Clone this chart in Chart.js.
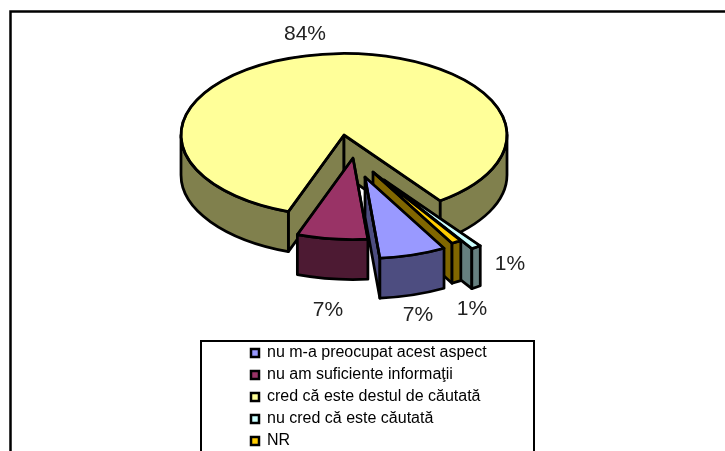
<!DOCTYPE html>
<html>
<head>
<meta charset="utf-8">
<style>
  html, body { margin: 0; padding: 0; background: #fff; overflow: hidden; }
</style>
<script src="https://cdn.jsdelivr.net/npm/chart.js@4"></script>
</head>
<body>
<canvas id="pie" width="725" height="451"></canvas>
<script>
// data
const categories = ["nu m-a preocupat acest aspect", "nu am suficiente informaţii", "cred că este destul de căutată", "nu cred că este căutată", "NR"];
const percents = [6.6, 7, 84.4, 1, 1]; // labels show them rounded
const topColors = ["#9999FF", "#993366", "#FFFF99", "#CCFFFF", "#FFCC00"];
const sideColors = ["#4D4D80", "#4D1A33", "#80804D", "#668080", "#806600"];

// look of the fake 3D pie
const squash = 0.5;
const depth = 40;
const edgeWidth = 2.75;
const explodeX = [21, 9, 0, 40, 29];
const explodeY = [42, 23, 0, 45, 37];
const drawOrder = [2, 3, 4, 1, 0]; // back to front
const labelX = [418, 328, 305, 510, 472];
const labelY = [315, 310, 34, 264, 309];

function pointOn(cx, cy, r, angle) {
    return { x: cx + r * Math.cos(angle), y: cy + r * squash * Math.sin(angle) };
}

function strokeFill(ctx, color) {
    ctx.fillStyle = color;
    ctx.fill();
    ctx.stroke();
}

function drawWall(ctx, cx, cy, p, color) {
    ctx.beginPath();
    ctx.moveTo(cx, cy);
    ctx.lineTo(p.x, p.y);
    ctx.lineTo(p.x, p.y + depth);
    ctx.lineTo(cx, cy + depth);
    ctx.closePath();
    strokeFill(ctx, color);
}

function drawRim(ctx, cx, cy, r, from, to, color) {
    // only the parts of the rim that face the viewer
    [[0, Math.PI], [2 * Math.PI, 3 * Math.PI]].forEach(range => {
        const a = Math.max(from, range[0]);
        const b = Math.min(to, range[1]);
        if (a >= b) return;
        ctx.beginPath();
        ctx.ellipse(cx, cy, r, r * squash, 0, a, b);
        ctx.ellipse(cx, cy + depth, r, r * squash, 0, b, a, true);
        ctx.closePath();
        strokeFill(ctx, color);
    });
}

function drawSlice(ctx, arc, i) {
    const cx = arc.x + explodeX[i];
    const cy = arc.y + explodeY[i];
    const r = arc.outerRadius;
    const from = arc.startAngle;
    const to = arc.endAngle;

    ctx.lineWidth = edgeWidth;
    ctx.strokeStyle = "#000";
    ctx.lineJoin = "round";

    if (Math.sin(from - Math.PI / 2) > 0) drawWall(ctx, cx, cy, pointOn(cx, cy, r, from), sideColors[i]);
    if (Math.sin(to + Math.PI / 2) > 0) drawWall(ctx, cx, cy, pointOn(cx, cy, r, to), sideColors[i]);
    drawRim(ctx, cx, cy, r, from, to, sideColors[i]);

    // top face, the library draws it on a squashed canvas
    ctx.save();
    ctx.translate(cx, cy);
    ctx.scale(1, squash);
    ctx.translate(-arc.x, -arc.y);
    arc.draw(ctx);
    ctx.restore();

    ctx.lineWidth = edgeWidth;
    ctx.strokeStyle = "#000";
    ctx.beginPath();
    ctx.moveTo(cx, cy);
    ctx.ellipse(cx, cy, r, r * squash, 0, from, to);
    ctx.closePath();
    ctx.stroke();
}

const pie3d = {
    id: "pie3d",
    beforeDraw(chart) {
        const ctx = chart.ctx;
        ctx.save();
        ctx.strokeStyle = "#000";
        ctx.lineWidth = 2.5;
        ctx.strokeRect(10.5, 11.5, 900, 600); // chart frame runs off the page
        ctx.lineWidth = 2;
        ctx.strokeRect(201, 341, 333, 200);   // legend box too
        ctx.restore();
    },
    afterLayout(chart) {
        const legend = chart.legend;
        legend.left = 245;
        legend.right = 530;
        legend.top = 339;
        legend.bottom = 520; // keep all rows in one column
    },
    beforeDatasetsDraw(chart) {
        const ctx = chart.ctx;
        const arcs = chart.getDatasetMeta(0).data;
        ctx.save();
        drawOrder.forEach(i => drawSlice(ctx, arcs[i], i));
        ctx.fillStyle = "#222";
        ctx.font = "21px 'Liberation Sans'";
        ctx.textAlign = "center";
        ctx.textBaseline = "middle";
        percents.forEach((v, i) => ctx.fillText(Math.round(v) + "%", labelX[i], labelY[i]));
        ctx.restore();
        return false;
    }
};

new Chart(document.getElementById("pie"), {
    type: "pie",
    data: {
        labels: categories,
        datasets: [{
            data: percents,
            backgroundColor: topColors,
            borderColor: "#000",
            borderWidth: 2.5
        }]
    },
    options: {
        responsive: false,
        animation: false,
        rotation: 151,
        radius: 163,
        layout: { padding: { left: 0, top: 0, right: 37, bottom: 181 } },
        plugins: {
            tooltip: { enabled: false },
            legend: {
                position: "chartArea",
                align: "start",
                labels: {
                    boxWidth: 8,
                    boxHeight: 8,
                    padding: 6,
                    color: "#000",
                    font: { family: "'Liberation Sans'", size: 16 }
                }
            }
        }
    },
    plugins: [pie3d]
});
</script>
</body>
</html>
